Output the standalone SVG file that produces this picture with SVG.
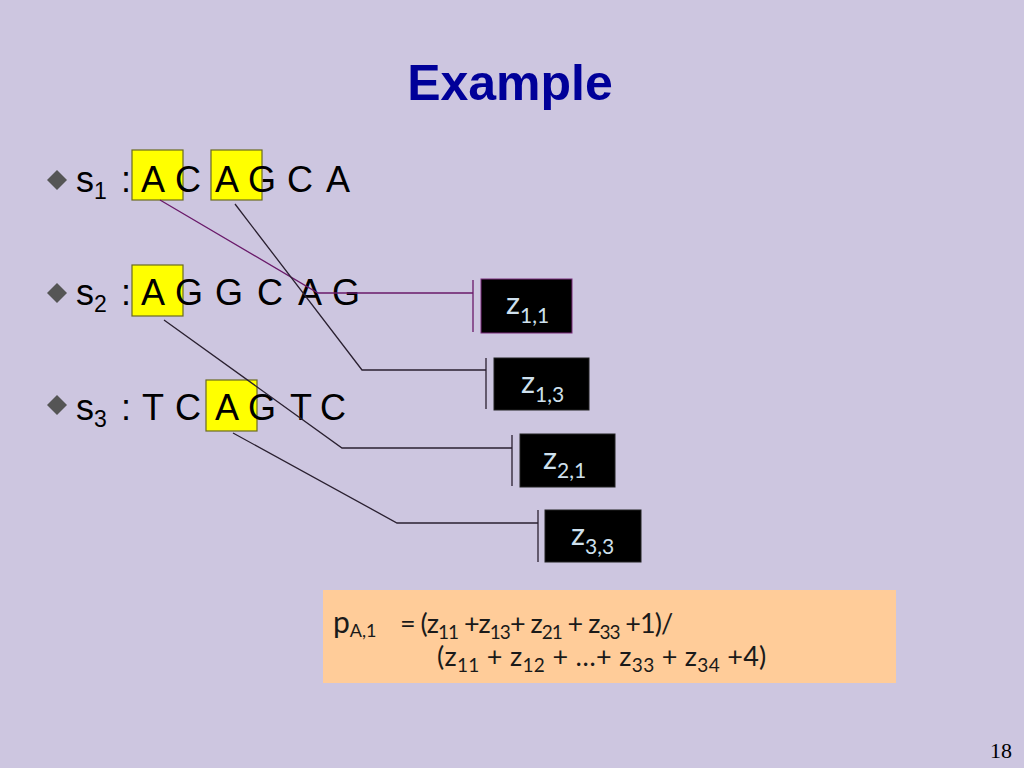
<svg xmlns="http://www.w3.org/2000/svg" width="1024" height="768" viewBox="0 0 1024 768">
<style>
.title{font-family:"Liberation Sans",Arial,sans-serif;font-weight:bold;font-size:50px;fill:#000099}
.seq{font-family:"Liberation Sans",Arial,sans-serif;font-size:36px;fill:#000}
.sub{font-size:23px}
.hl{fill:#FFFF00;stroke:#6b6b20;stroke-width:1.2}
.bul{fill:#555555}
.zbox{fill:#000;stroke:#222;stroke-width:1}
.zt{font-family:"Lato","Open Sans",sans-serif;font-size:31px;fill:#cfe0ee}
.zs{font-size:21px}
.conn{fill:none;stroke:#2a2030;stroke-width:1.3}
.connp{fill:none;stroke:#6a1a6a;stroke-width:1.3}
.ft{font-family:"Lato","Open Sans",sans-serif;font-size:27px;fill:#1a1a1a}
.fs{font-size:19px}
.pg{font-family:"Liberation Serif","Times New Roman",serif;font-size:22px;fill:#000}
</style>
<rect x="0" y="0" width="1024" height="768" fill="#CDC6E0"/>
<text class="title" x="510" y="100" text-anchor="middle">Example</text>

<g id="row1">
<polygon class="bul" points="57,170 67,180 57,190 47,180"/>
<rect class="hl" x="132" y="150" width="51" height="50"/>
<rect class="hl" x="211" y="150" width="51" height="50"/>
<text class="seq" x="76" y="192">s</text>
<text class="seq sub" x="94" y="199">1</text>
<text class="seq" x="121" y="192">:</text>
<text class="seq" x="141 175 215 248 287 326" y="192">ACAGCA</text>
</g>

<g id="row2">
<polygon class="bul" points="57,283 67,293 57,303 47,293"/>
<rect class="hl" x="132" y="265" width="51" height="51"/>
<text class="seq" x="76" y="305">s</text>
<text class="seq sub" x="94" y="312">2</text>
<text class="seq" x="121" y="305">:</text>
<text class="seq" x="141 175 215 257 298 332" y="305">AGGCAG</text>
</g>

<g id="row3">
<polygon class="bul" points="57,395 67,405 57,415 47,405"/>
<rect class="hl" x="206" y="380" width="51" height="51"/>
<text class="seq" x="76" y="420">s</text>
<text class="seq sub" x="94" y="427">3</text>
<text class="seq" x="121" y="420">:</text>
<text class="seq" x="142 175 215 248 290 320" y="420">TCAGTC</text>
</g>

<g id="connectors">
<polyline class="connp" points="160,200 318,293 473,293"/>
<line class="connp" x1="473" y1="280" x2="473" y2="332"/>
<polyline class="conn" points="235,204 362,370 486,370"/>
<line class="conn" x1="486" y1="358" x2="486" y2="409"/>
<polyline class="conn" points="164,320 342,448 512,448"/>
<line class="conn" x1="512" y1="435" x2="512" y2="486"/>
<polyline class="conn" points="233,433 397,523 538,523"/>
<line class="conn" x1="538" y1="510" x2="538" y2="562"/>
</g>

<g id="z11">
<rect class="zbox" x="481" y="279" width="91" height="54" style="stroke:#7a2a7a"/>
<text class="zt" x="506" y="314">z<tspan class="zs" dy="9">1,1</tspan></text>
</g>
<g id="z13">
<rect class="zbox" x="494" y="358" width="95" height="52"/>
<text class="zt" x="521" y="393">z<tspan class="zs" dy="9">1,3</tspan></text>
</g>
<g id="z21">
<rect class="zbox" x="520" y="434" width="95" height="53"/>
<text class="zt" x="543" y="469">z<tspan class="zs" dy="9">2,1</tspan></text>
</g>
<g id="z33">
<rect class="zbox" x="545" y="510" width="96" height="52"/>
<text class="zt" x="571" y="545">z<tspan class="zs" dy="9">3,3</tspan></text>
</g>

<g id="formula">
<rect x="323" y="590" width="573" height="93" fill="#FFCC99"/>
<text class="ft" x="333" y="633" style="font-size:30px">p<tspan class="fs" dy="4" style="font-size:18px">A,1</tspan></text>
<text class="ft" x="400" y="633" letter-spacing="-1">= (z<tspan class="fs" dy="6">11</tspan><tspan dy="-6"> +z</tspan><tspan class="fs" dy="6">13</tspan><tspan dy="-6">+ z</tspan><tspan class="fs" dy="6">21</tspan><tspan dy="-6"> + z</tspan><tspan class="fs" dy="6">33</tspan><tspan dy="-6"> +1)/</tspan></text>
<text class="ft" x="437" y="666" letter-spacing="0.3">(z<tspan class="fs" dy="6">11</tspan><tspan dy="-6"> + z</tspan><tspan class="fs" dy="6">12</tspan><tspan dy="-6"> + …+ z</tspan><tspan class="fs" dy="6">33</tspan><tspan dy="-6"> + z</tspan><tspan class="fs" dy="6">34</tspan><tspan dy="-6"> +4)</tspan></text>
</g>

<text class="pg" x="1012" y="758" text-anchor="end">18</text>
</svg>
